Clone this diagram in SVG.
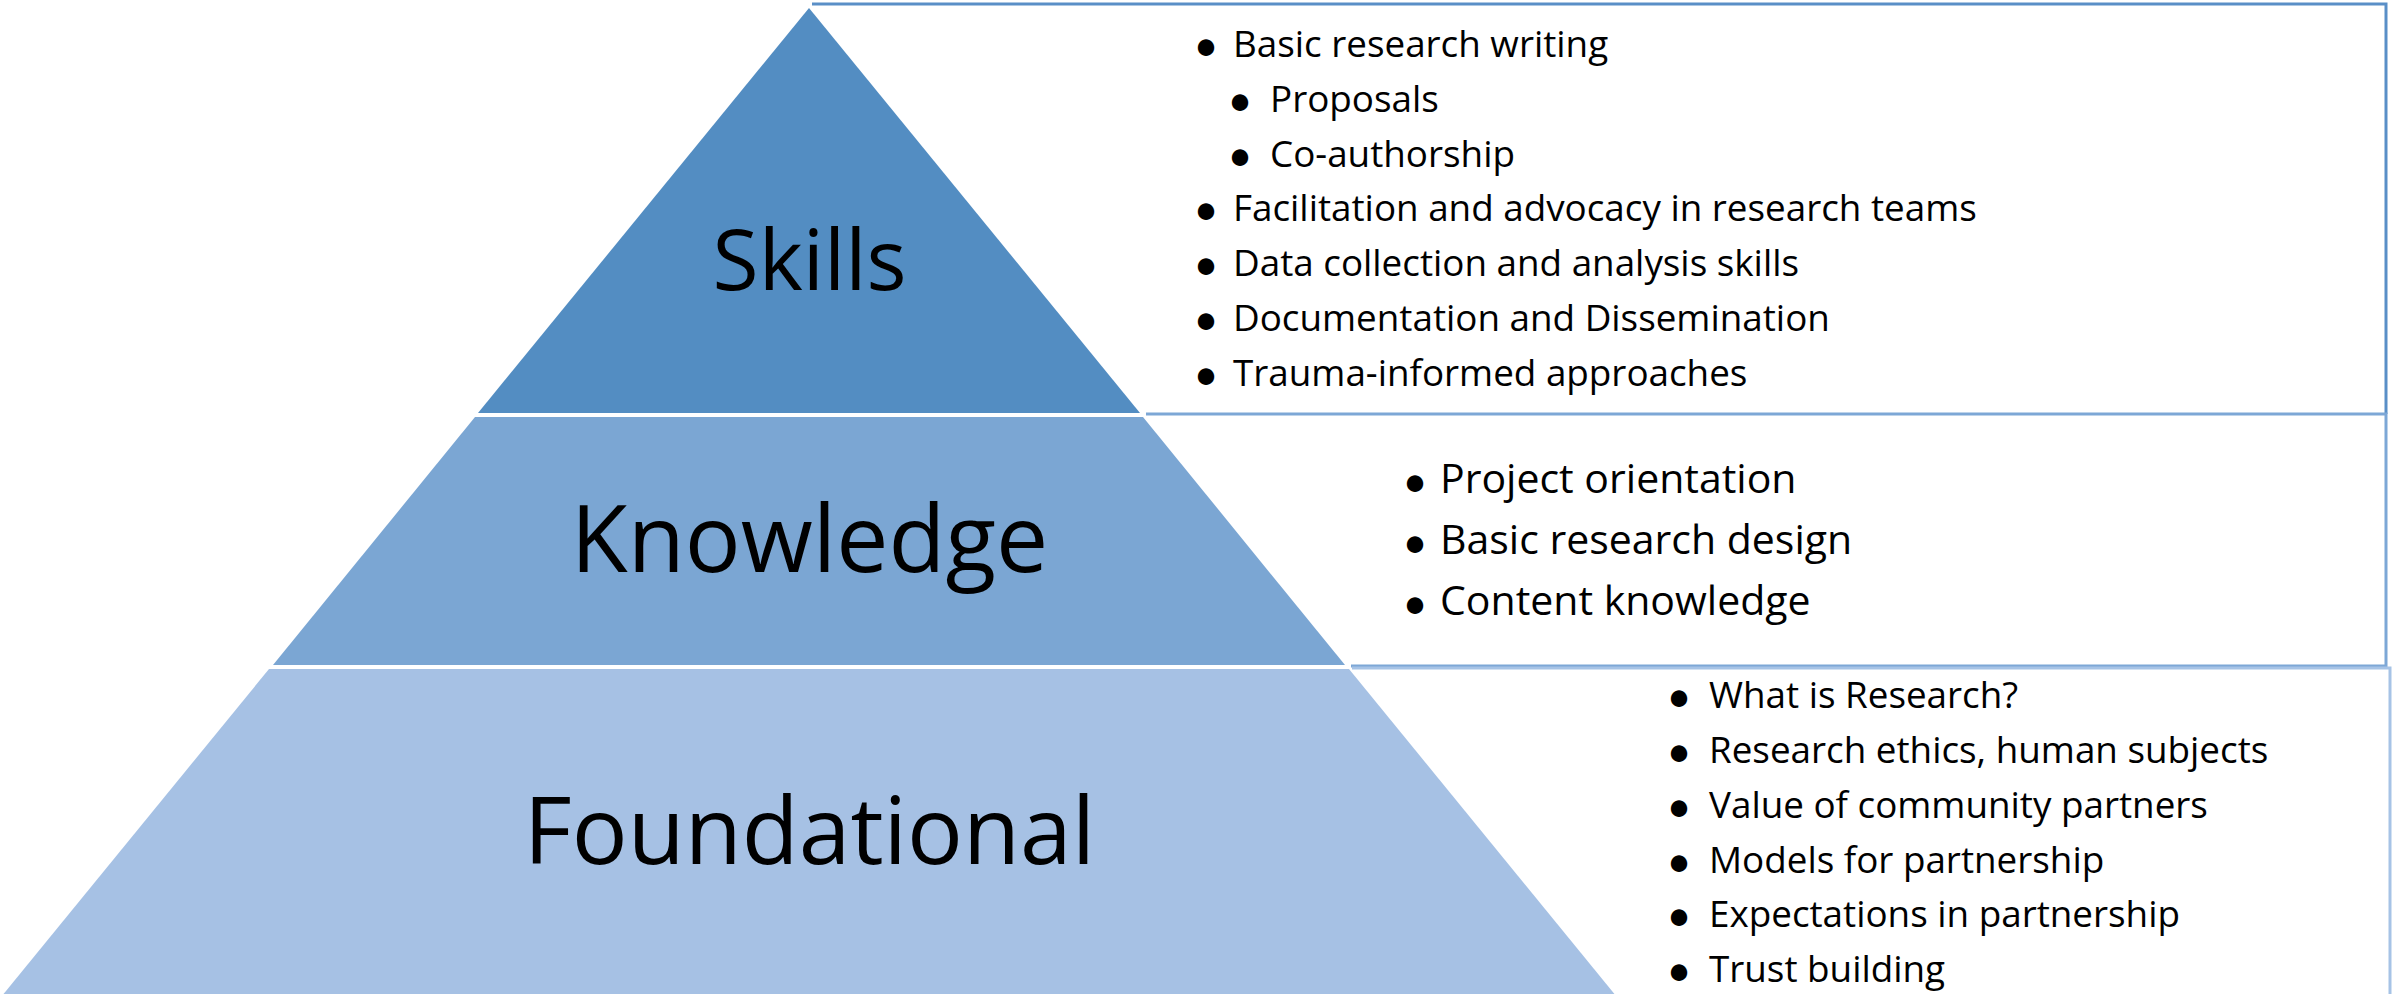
<svg xmlns="http://www.w3.org/2000/svg" width="2399" height="994" viewBox="0 0 2399 994">
<style>
text{font-variant-ligatures:none}
.lbl{font-family:"Open Sans",Lato,"DejaVu Sans",sans-serif;fill:#000;text-anchor:middle}
.it{font-family:"Open Sans",Lato,"DejaVu Sans",sans-serif;fill:#000;font-size:36.8px}
.itk{font-family:"Open Sans",Lato,"DejaVu Sans",sans-serif;fill:#000;font-size:41px}
.bul{font-family:Lato,"DejaVu Sans",sans-serif;fill:#000;text-anchor:middle;font-size:44px}
.box{fill:none;stroke-width:3}
</style>
<rect width="2399" height="994" fill="#fff"/>
<g id="skills">
  <path class="box" d="M812,4 H2386 V414" stroke="#5A8FC7"/>
  <polygon points="809,8 1140,413 478,413" fill="#538DC2"/>
  <text class="lbl" x="809.5" y="290" font-size="84">Skills</text>
  <g class="it">
    <text x="1233" y="57">Basic research writing</text>
    <text x="1270" y="112">Proposals</text>
    <text x="1270" y="166.5">Co-authorship</text>
    <text x="1233" y="221">Facilitation and advocacy in research teams</text>
    <text x="1233" y="276">Data collection and analysis skills</text>
    <text x="1233" y="331">Documentation and Dissemination</text>
    <text x="1233" y="386">Trauma-informed approaches</text>
  </g>
  <g class="bul">
    <text x="1206" y="61">•</text>
    <text x="1240" y="116">•</text>
    <text x="1240" y="170.5">•</text>
    <text x="1206" y="225">•</text>
    <text x="1206" y="280">•</text>
    <text x="1206" y="335">•</text>
    <text x="1206" y="390">•</text>
  </g>
</g>
<g id="knowledge">
  <path class="box" d="M1146,414 H2386 V666 H1351" stroke="#7DA7D6"/>
  <polygon points="475,417 1143,417 1345,665 273,665" fill="#7BA6D3"/>
  <text class="lbl" x="809.5" y="572" font-size="93">Knowledge</text>
  <g class="itk">
    <text x="1440" y="493">Project orientation</text>
    <text x="1440" y="554">Basic research design</text>
    <text x="1440" y="615">Content knowledge</text>
  </g>
  <g class="bul">
    <text x="1415" y="497">•</text>
    <text x="1415" y="558">•</text>
    <text x="1415" y="619">•</text>
  </g>
</g>
<g id="foundational">
  <path class="box" d="M1352,668 H2390 V994" stroke="#A6C3E6"/>
  <polygon points="269,669 1349,669 1621,1002 -3,1002" fill="#A6C1E4"/>
  <text class="lbl" x="809.5" y="864" font-size="93">Foundational</text>
  <g class="it">
    <text x="1709" y="708">What is Research?</text>
    <text x="1709" y="763">Research ethics, human subjects</text>
    <text x="1709" y="817.5">Value of community partners</text>
    <text x="1709" y="872.5">Models for partnership</text>
    <text x="1709" y="927">Expectations in partnership</text>
    <text x="1709" y="982">Trust building</text>
  </g>
  <g class="bul">
    <text x="1679" y="712">•</text>
    <text x="1679" y="767">•</text>
    <text x="1679" y="821.5">•</text>
    <text x="1679" y="876.5">•</text>
    <text x="1679" y="931">•</text>
    <text x="1679" y="986">•</text>
  </g>
</g>
<g id="connectors"></g>
</svg>
